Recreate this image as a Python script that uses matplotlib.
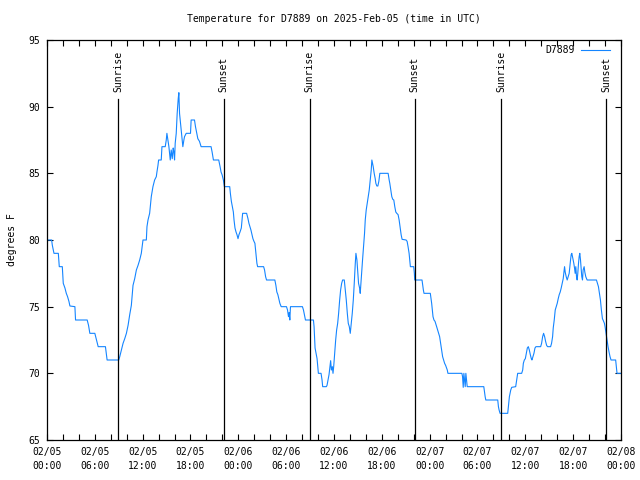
import matplotlib
matplotlib.use("Agg")
import matplotlib.pyplot as plt
import matplotlib.dates as mdates
import pandas as pd

station = "D7889"
start = pd.Timestamp("2025-02-05 00:00")

# hours after 02/05 00:00 UTC
hours = [0.0, 0.58, 0.67, 0.875, 1.42, 1.54, 1.92, 2.04, 2.25, 2.42, 2.58, 2.75, 2.875,
         3.5, 3.58, 5.04, 5.21, 5.375, 6.0, 6.21, 6.42, 7.33, 7.54, 9.0, 9.125, 9.33,
         9.54, 9.75, 9.96, 10.17, 10.375, 10.58, 10.79, 11.0, 11.21, 11.42, 11.625,
         11.83, 12.04, 12.46, 12.54, 12.67, 12.875, 13.08, 13.29, 13.5, 13.71, 13.79,
         13.92, 14.0, 14.33, 14.42, 14.83, 14.96, 15.04, 15.17, 15.29, 15.46, 15.58,
         15.71, 15.83, 15.92, 16.0, 16.08, 16.21, 16.33, 16.46, 16.54, 16.625, 16.75,
         16.875, 16.96, 17.04, 17.17, 17.25, 17.46, 18.0, 18.08, 18.5, 18.625, 18.79,
         18.92, 19.125, 19.33, 20.58, 20.71, 20.875, 21.54, 21.71, 21.83, 21.96,
         22.125, 22.25, 22.92, 23.0, 23.125, 23.25, 23.375, 23.46, 23.58, 23.71, 23.83,
         23.96, 24.08, 24.21, 24.375, 24.46, 24.54, 25.04, 25.21, 25.33, 25.46, 25.58,
         25.71, 25.83, 25.96, 26.08, 26.21, 26.33, 26.42, 27.17, 27.29, 27.42, 27.54,
         28.58, 28.71, 28.83, 28.96, 29.08, 29.21, 29.375, 30.04, 30.17, 30.29, 30.375,
         30.46, 30.54, 32.04, 32.17, 32.29, 32.42, 33.42, 33.5, 33.54, 33.625, 33.75,
         33.875, 33.96, 34.04, 34.375, 34.5, 34.58, 35.04, 35.125, 35.25, 35.375, 35.5,
         35.58, 35.67, 35.79, 35.875, 35.96, 36.08, 36.21, 36.33, 36.46, 36.58, 36.71,
         36.83, 36.96, 37.08, 37.29, 37.42, 37.54, 37.67, 37.79, 37.92, 38.04, 38.17,
         38.29, 38.42, 38.54, 38.67, 38.75, 38.875, 39.0, 39.08, 39.21, 39.29, 39.375,
         39.46, 39.58, 39.71, 39.83, 39.92, 40.04, 40.17, 40.29, 40.42, 40.54, 40.67,
         40.75, 40.83, 40.92, 41.04, 41.17, 41.25, 41.375, 41.5, 41.625, 41.75, 42.79,
         42.92, 43.0, 43.125, 43.25, 43.375, 43.5, 43.625, 43.75, 43.875, 44.04, 44.17,
         44.29, 44.42, 44.54, 45.04, 45.17, 45.29, 45.42, 45.5, 45.58, 46.0, 46.08,
         46.125, 47.04, 47.125, 47.21, 47.29, 48.08, 48.17, 48.25, 48.33, 48.42, 48.54,
         48.67, 48.75, 48.875, 49.0, 49.125, 49.25, 49.375, 49.5, 49.625, 49.75,
         49.875, 50.0, 50.125, 50.21, 50.29, 52.04, 52.125, 52.21, 52.29, 52.375,
         52.46, 52.54, 52.625, 52.71, 54.79, 54.875, 54.96, 55.04, 56.54, 56.625,
         56.71, 56.83, 57.79, 57.875, 58.0, 58.17, 58.29, 58.79, 58.92, 59.04, 59.54,
         59.67, 59.75, 59.875, 60.0, 60.125, 60.25, 60.375, 60.5, 60.625, 60.75, 60.83,
         60.96, 61.08, 61.21, 61.33, 61.92, 62.04, 62.17, 62.29, 62.42, 62.54, 62.67,
         62.79, 63.17, 63.29, 63.42, 63.5, 63.625, 63.75, 63.875, 64.0, 64.125, 64.25,
         64.375, 64.5, 64.625, 64.75, 64.83, 64.92, 65.0, 65.125, 65.25, 65.375, 65.5,
         65.58, 65.67, 65.75, 65.83, 65.92, 66.0, 66.08, 66.17, 66.25, 66.33, 66.42,
         66.5, 66.58, 66.67, 66.75, 66.83, 66.92, 67.0, 67.08, 67.17, 67.25, 67.375,
         67.46, 67.58, 67.75, 68.92, 69.04, 69.17, 69.29, 69.42, 69.54, 69.67, 69.75,
         69.92, 70.0, 70.125, 70.25, 70.375, 70.5, 70.625, 70.75, 71.33, 71.42, 71.5,
         72.0]
temps = [80, 80, 79.6, 79, 79, 78, 78, 76.75, 76.4, 76, 75.75, 75.4, 75.05,
         75, 74, 74, 73.6, 73, 73, 72.5, 72, 72, 71, 71, 71.25, 71.75,
         72.25, 72.6, 73, 73.6, 74.4, 75.1, 76.6, 77.1, 77.75, 78.1, 78.5,
         79, 80, 80, 81, 81.5, 82, 83.25, 84, 84.5, 84.75, 85.1,
         85.6, 86, 86, 87, 87, 87.5, 88, 87.5, 87, 86, 86.75,
         86.1, 86.9, 86.6, 86, 87.25, 88, 89.5, 90.6, 91.05, 89.5, 88.75,
         88, 87.5, 87, 87.5, 87.75, 88, 88, 89, 89, 88.5, 88,
         87.6, 87.4, 87, 87, 86.6, 86, 86, 85.5, 85.1, 84.9,
         84.5, 84, 84, 83.5, 82.9, 82.5, 82.1, 81.5, 80.9, 80.6, 80.4,
         80.1, 80.4, 80.6, 80.9, 81.5, 82, 82, 81.6, 81.25, 81, 80.75,
         80.4, 80.1, 79.9, 79.75, 79, 78.25, 78, 78, 77.75, 77.25, 77,
         77, 76.6, 76.1, 75.9, 75.6, 75.25, 75, 75, 74.75, 74.25, 74.55,
         74, 75, 75, 74.75, 74.4, 74, 74, 73.5, 73, 71.9, 71.5,
         71.1, 70.5, 70, 70, 69.5, 69, 69, 69.1, 69.5, 69.9, 70.5,
         70.95, 70.25, 70.5, 70, 70.5, 71.5, 72.5, 73.25, 73.75, 74.5, 75.5,
         76.25, 76.75, 77, 77, 76.25, 75.5, 74.5, 73.75, 73.5, 73, 73.75,
         74.5, 75.5, 76.75, 78.25, 79, 78.5, 77.5, 76.75, 76.4, 76, 76.75,
         77.5, 78.5, 79.5, 80.5, 81.5, 82.25, 82.75, 83.25, 83.75, 84.5, 85.25,
         86, 85.75, 85.5, 85, 84.6, 84.25, 84.05, 84.05, 84.4, 85, 85,
         84.5, 84.25, 83.75, 83.25, 83.05, 83, 82.5, 82.1, 82, 81.9, 81.5,
         81, 80.4, 80.05, 80, 79.9, 79.5, 79, 78.5, 78, 78, 77.5,
         77, 77, 76.6, 76.25, 76, 76, 75.6, 75.25, 74.75, 74.25, 74,
         73.9, 73.75, 73.5, 73.25, 73, 72.75, 72.25, 71.75, 71.25, 71,
         70.75, 70.6, 70.4, 70.25, 70, 70, 69.75, 68.95, 70, 69.5,
         69, 70, 69.5, 69, 69, 68.6, 68.25, 68, 68, 67.5,
         67.25, 67, 67, 67.5, 68.25, 68.75, 68.95, 69, 69.5, 70, 70,
         70.25, 70.75, 71, 71.1, 71.5, 71.9, 72, 71.75, 71.4, 71.1, 71,
         71.25, 71.5, 71.9, 72, 72, 72.25, 72.75, 73, 72.75, 72.4, 72.1,
         72, 72, 72.25, 72.75, 73.4, 74, 74.75, 75, 75.25, 75.6, 75.9,
         76.1, 76.4, 76.75, 77.1, 77.5, 78, 77.6, 77.25, 77, 77.25, 77.5,
         78, 78.5, 78.9, 79, 78.75, 78.5, 78.25, 77.9, 77.5, 78, 77.25,
         77, 77.5, 78.25, 78.75, 79, 78.5, 77.9, 77.25, 77, 77.75, 78,
         77.6, 77.25, 77, 77, 76.75, 76.5, 76, 75.5, 74.75, 74.1, 74,
         73.75, 73.5, 73, 72.5, 72, 71.6, 71.25, 71, 71, 70.5, 70,
         70]

sunrise = ["2025-02-05 08:55", "2025-02-06 08:57", "2025-02-07 08:58"]
sunset = ["2025-02-05 22:10", "2025-02-06 22:08", "2025-02-07 22:08"]

times = start + pd.to_timedelta(hours, unit="h")

plt.rcParams["font.family"] = ["DejaVu Sans Mono"]
plt.rcParams["font.size"] = 7

fig = plt.figure(figsize=(6.4, 4.8), dpi=100)
ax = fig.add_axes([47/640, 40/480, 574/640, 400/480])

ax.plot(times, temps, color="#1485ff", lw=0.8, label=station)

for t in sunrise:
    ax.axvline(pd.Timestamp(t), ymax=0.8525, color="black", lw=0.9)
    ax.text(pd.Timestamp(t), 91.1, "Sunrise", rotation=90, ha="center", va="bottom")
for t in sunset:
    ax.axvline(pd.Timestamp(t), ymax=0.8525, color="black", lw=0.9)
    ax.text(pd.Timestamp(t), 91.1, "Sunset", rotation=90, ha="center", va="bottom")

ax.set_xlim(start, start + pd.Timedelta(hours=72))
ax.set_ylim(65, 95)
ax.set_yticks([65, 70, 75, 80, 85, 90, 95])
ax.xaxis.set_major_locator(mdates.HourLocator(byhour=[0, 6, 12, 18]))
ax.xaxis.set_minor_locator(mdates.HourLocator(byhour=range(0, 24, 2)))
ax.xaxis.set_major_formatter(mdates.DateFormatter("%m/%d\n%H:%M"))
ax.tick_params(which="both", direction="in", length=4, width=0.8,
               top=True, right=True, pad=5)
for s in ax.spines.values():
    s.set_linewidth(0.9)
fig.canvas.draw()
for lab in ax.get_xticklabels():
    lab.set_linespacing(1.45)

ax.set_ylabel("degrees F", labelpad=8)
fig.text(334/640, 1 - 19/480, "Temperature for D7889 on 2025-Feb-05 (time in UTC)",
         ha="center", va="center")

ax.legend(loc="upper right", frameon=False, markerfirst=False, handlelength=3.0,
          borderpad=0, borderaxespad=0, handletextpad=0.6,
          bbox_to_anchor=((610 - 47) / 574, (440 - 45) / 400))

fig.savefig("out.png", dpi=100)
